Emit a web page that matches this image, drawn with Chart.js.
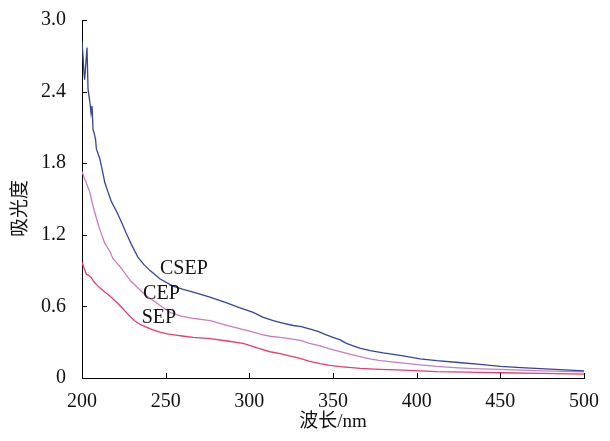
<!DOCTYPE html>
<html>
<head>
<meta charset="utf-8">
<script src="https://cdn.jsdelivr.net/npm/chart.js@4/dist/chart.umd.min.js"></script>
<style>
  html, body { margin: 0; padding: 0; background: #fff; }
  canvas { display: block; }
</style>
</head>
<body>
<canvas id="chart" width="610" height="441"></canvas>
<script>
// Absorbance spectra of three samples (wavelength in nm, absorbance)
const csepNm  = [200, 200.6, 201.2, 201.6, 202.2, 203.0, 203.6, 204.2, 204.8, 205.4, 206.0, 206.6, 207.3, 208.1, 208.6, 210.6, 212, 213.6, 215.5, 217.5, 220.5, 223.5, 226.5, 229.5, 233.5, 237, 240.7, 246.7, 254.4, 260, 266.4, 276, 286.5, 294, 302.3, 308, 314.2, 320, 326.2, 331, 336.4, 341, 346.4, 350, 354.3, 358, 362.1, 366, 372.2, 380, 392, 402, 412, 425, 438, 450, 465, 480, 500];
const csepAbs = [2.82, 2.70, 2.55, 2.50, 2.62, 2.77, 2.42, 2.36, 2.30, 2.22, 2.28, 2.08, 2.05, 2.00, 1.92, 1.84, 1.75, 1.64, 1.56, 1.48, 1.40, 1.31, 1.21, 1.12, 1.01, 0.95, 0.90, 0.83, 0.77, 0.745, 0.72, 0.68, 0.63, 0.59, 0.55, 0.51, 0.48, 0.46, 0.44, 0.43, 0.41, 0.39, 0.36, 0.34, 0.32, 0.29, 0.27, 0.25, 0.23, 0.21, 0.185, 0.16, 0.145, 0.13, 0.115, 0.097, 0.085, 0.075, 0.06];

const cepNm  = [200, 200.8, 201.6, 203, 204.6, 206.6, 208, 209.6, 211.5, 213.6, 216.7, 218.5, 221, 223.5, 226.5, 229.3, 233, 237.5, 241.5, 245.5, 249, 252.6, 258.6, 266.4, 276.6, 286.5, 292.5, 302.3, 307, 312.4, 318.4, 324, 330.4, 336, 342.3, 348, 354.3, 360, 366.3, 372, 378.2, 392, 402, 412, 425, 438, 450, 475, 500];
const cepAbs = [1.73, 1.70, 1.67, 1.62, 1.56, 1.44, 1.37, 1.29, 1.21, 1.13, 1.06, 1.00, 0.96, 0.92, 0.86, 0.81, 0.76, 0.70, 0.66, 0.62, 0.585, 0.55, 0.52, 0.50, 0.48, 0.44, 0.42, 0.385, 0.365, 0.35, 0.34, 0.33, 0.315, 0.29, 0.27, 0.245, 0.22, 0.20, 0.18, 0.16, 0.145, 0.125, 0.11, 0.097, 0.085, 0.077, 0.072, 0.06, 0.052];

const sepNm  = [200, 201, 202.6, 204, 205.6, 207.5, 209.6, 211.5, 213.6, 216.5, 219.6, 222.5, 225.5, 228.5, 231.5, 234.5, 237.7, 242, 246.6, 251, 256, 261, 266.4, 276.6, 286.7, 296.3, 301, 306.5, 312.4, 318.4, 324, 330.4, 336, 342.3, 348, 354.3, 366.3, 378.2, 392, 402, 412, 438, 450, 475, 500];
const sepAbs = [0.97, 0.93, 0.87, 0.86, 0.84, 0.80, 0.77, 0.745, 0.72, 0.69, 0.65, 0.61, 0.565, 0.52, 0.48, 0.45, 0.43, 0.405, 0.385, 0.37, 0.36, 0.35, 0.34, 0.33, 0.31, 0.29, 0.27, 0.245, 0.22, 0.205, 0.185, 0.165, 0.14, 0.12, 0.105, 0.095, 0.08, 0.072, 0.066, 0.06, 0.054, 0.047, 0.044, 0.038, 0.033];

// Axis ticks
const xTicks = [200, 250, 300, 350, 400, 450, 500];
const yTicks = [0, 0.6, 1.2, 1.8, 2.4, 3.0];

// Curve name labels, anchored in data space (left edge, vertical middle)
const labelText = ['CSEP', 'CEP', 'SEP'];
const labelNm   = [246.6, 236.5, 235.7];
const labelAbs  = [0.914, 0.702, 0.503];

const serif = '"Liberation Serif", "Times New Roman", "Noto Sans CJK SC", serif';

function toPoints(xs, ys) {
  return xs.map((x, i) => ({ x: x, y: ys[i] }));
}

// Short tick marks pointing into the plot area, plus the curve names
const innerTicksAndLabels = {
  id: 'innerTicksAndLabels',
  afterDraw(chart) {
    const ctx = chart.ctx;
    const xs = chart.scales.x;
    const ys = chart.scales.y;
    const len = 5;
    ctx.save();
    ctx.strokeStyle = '#000';
    ctx.lineWidth = 1;
    ctx.beginPath();
    xTicks.forEach(v => {
      const px = Math.round(xs.getPixelForValue(v)) + 0.5;
      ctx.moveTo(px, ys.bottom);
      ctx.lineTo(px, ys.bottom - len);
    });
    yTicks.forEach(v => {
      const py = Math.round(ys.getPixelForValue(v)) + 0.5;
      ctx.moveTo(xs.left, py);
      ctx.lineTo(xs.left + len, py);
    });
    ctx.stroke();

    ctx.fillStyle = '#111';
    ctx.font = '20px ' + serif;
    ctx.textAlign = 'left';
    ctx.textBaseline = 'middle';
    labelText.forEach((t, i) => {
      ctx.fillText(t, xs.getPixelForValue(labelNm[i]), ys.getPixelForValue(labelAbs[i]));
    });
    ctx.restore();
  }
};

new Chart(document.getElementById('chart'), {
  type: 'line',
  data: {
    datasets: [
      { label: 'CSEP', data: toPoints(csepNm, csepAbs), borderColor: '#34449a' },
      { label: 'CEP',  data: toPoints(cepNm, cepAbs),   borderColor: '#c97dbc' },
      { label: 'SEP',  data: toPoints(sepNm, sepAbs),   borderColor: '#ee3a6c' }
    ]
  },
  options: {
    responsive: false,
    animation: false,
    layout: { padding: { left: 0, right: 26, top: 17, bottom: 0 } },
    plugins: { legend: { display: false }, tooltip: { enabled: false } },
    elements: {
      point: { radius: 0 },
      line: { borderWidth: 1.3, tension: 0, fill: false }
    },
    scales: {
      x: {
        type: 'linear',
        min: 200,
        max: 500,
        afterBuildTicks(scale) { scale.ticks = xTicks.map(v => ({ value: v })); },
        afterFit(scale) { scale.height = 63; },
        ticks: {
          color: '#111',
          font: { family: serif, size: 20 },
          padding: 4,
          maxRotation: 0,
          callback: v => String(v)
        },
        grid: { display: false },
        border: { display: true, color: '#000', width: 1 },
        title: {
          display: true,
          text: '波长/nm',
          color: '#111',
          font: { family: serif, size: 19 },
          padding: { top: 0, bottom: 8 }
        }
      },
      y: {
        min: 0,
        max: 3,
        afterBuildTicks(scale) { scale.ticks = yTicks.map(v => ({ value: v })); },
        afterFit(scale) { scale.width = 82; },
        ticks: {
          color: '#111',
          font: { family: serif, size: 20 },
          padding: 8,
          callback: v => (v === 0 ? '0' : v.toFixed(1))
        },
        grid: { display: false },
        border: { display: true, color: '#000', width: 1 },
        title: {
          display: true,
          text: '吸光度\u3000',
          color: '#111',
          font: { family: serif, size: 19 },
          padding: { top: 10, bottom: 0 }
        }
      }
    }
  },
  plugins: [innerTicksAndLabels]
});
</script>
</body>
</html>
